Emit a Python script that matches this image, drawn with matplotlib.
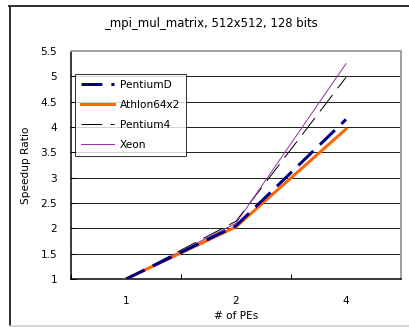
import matplotlib
matplotlib.use("Agg")
import matplotlib.pyplot as plt
from matplotlib.lines import Line2D
from matplotlib.ticker import FixedLocator, NullFormatter, FixedFormatter

plt.rcParams['font.family'] = ['DejaVu Sans']
plt.rcParams['lines.scale_dashes'] = False

# Data
pes = ["1", "2", "4"]
pentium_d = [1.0, 2.05, 4.15]
athlon64x2 = [1.0, 2.03, 3.96]
pentium4 = [1.0, 2.14, 4.98]
xeon = [1.0, 2.10, 5.25]
y_ticks = [1, 1.5, 2, 2.5, 3, 3.5, 4, 4.5, 5, 5.5]
y_tick_labels = ["1", "1.5", "2", "2.5", "3", "3.5", "4", "4.5", "5", "5.5"]

W, H = 409, 327
DPI = 100
fig = plt.figure(figsize=(W / DPI, H / DPI), dpi=DPI)
px = 72.0 / DPI  # points per pixel
FS = 7.6

# Outer chart frame
fig.add_artist(Line2D([9.5 / W, 9.5 / W], [1 - 5.5 / H, 1 - 325 / H], transform=fig.transFigure,
                      color="#333333", lw=2 * px))
fig.add_artist(Line2D([9 / W, 1.0], [1 - 5.5 / H, 1 - 5.5 / H], transform=fig.transFigure,
                      color="#333333", lw=2 * px))
fig.add_artist(Line2D([10 / W, 1.0], [1 - 325.5 / H, 1 - 325.5 / H], transform=fig.transFigure,
                      color="#c8c8c8", lw=1.5 * px))

# Plot area
L, R, T, B = 71, 401, 51, 279
ax = fig.add_axes([L / W, 1 - B / H, (R - L) / W, (B - T) / H])
x = list(range(len(pes)))

ax.plot(x, pentium4, color="black", lw=1 * px, dashes=(15, 6), label="Pentium4", zorder=3)
ax.plot(x, xeon, color="#9933aa", lw=1 * px, label="Xeon", zorder=3)
ax.plot(x, athlon64x2, color="#ff6600", lw=3 * px, label="Athlon64x2", zorder=4)
ax.plot(x, pentium_d, color="#000080", lw=3 * px, dashes=(15, 6.5), label="PentiumD", zorder=5)

ax.set_xlim(-0.5, len(pes) - 0.5)
ax.set_ylim(1, 5.5)
ax.yaxis.set_major_locator(FixedLocator(y_ticks))
ax.yaxis.set_major_formatter(FixedFormatter(y_tick_labels))
ax.grid(axis="y", color="#222222", lw=1 * px)
ax.set_axisbelow(True)

ax.xaxis.set_major_locator(FixedLocator([i - 0.5 for i in range(len(pes) + 1)]))
ax.xaxis.set_major_formatter(NullFormatter())
ax.xaxis.set_minor_locator(FixedLocator(x))
ax.xaxis.set_minor_formatter(FixedFormatter(pes))
ax.tick_params(axis="x", which="major", direction="in", length=5 * px, width=1 * px, color="black")
ax.tick_params(axis="x", which="minor", length=0, pad=12, labelsize=FS)
ax.tick_params(axis="y", which="major", direction="in", length=5 * px, width=1 * px, color="black",
               pad=10, labelsize=FS)

for s in ("left", "bottom"):
    ax.spines[s].set_color("black")
    ax.spines[s].set_linewidth(1.5 * px)
for s in ("top", "right"):
    ax.spines[s].set_color("#a0a0a0")
    ax.spines[s].set_linewidth(2 * px)

ax.set_xlabel("# of PEs", fontsize=FS, labelpad=4)
ax.set_ylabel("Speedup Ratio", fontsize=FS, labelpad=7)
fig.text(211 / W, 1 - 24 / H, "_mpi_mul_matrix, 512x512, 128 bits", ha="center", va="center",
         fontsize=8.4)

handles, labels = ax.get_legend_handles_labels()
order = ["PentiumD", "Athlon64x2", "Pentium4", "Xeon"]
hmap = dict(zip(labels, handles))
leg = fig.legend([hmap[k] for k in order], order, loc="upper left",
                 bbox_to_anchor=(75 / W, 1 - 74 / H), bbox_transform=fig.transFigure,
                 fontsize=FS, frameon=True, fancybox=False, borderaxespad=0,
                 handlelength=3.1, handletextpad=0.6, labelspacing=0.95, borderpad=0.55)
leg.get_frame().set_edgecolor("black")
leg.get_frame().set_linewidth(1 * px)

fig.savefig("out.png", dpi=DPI)
